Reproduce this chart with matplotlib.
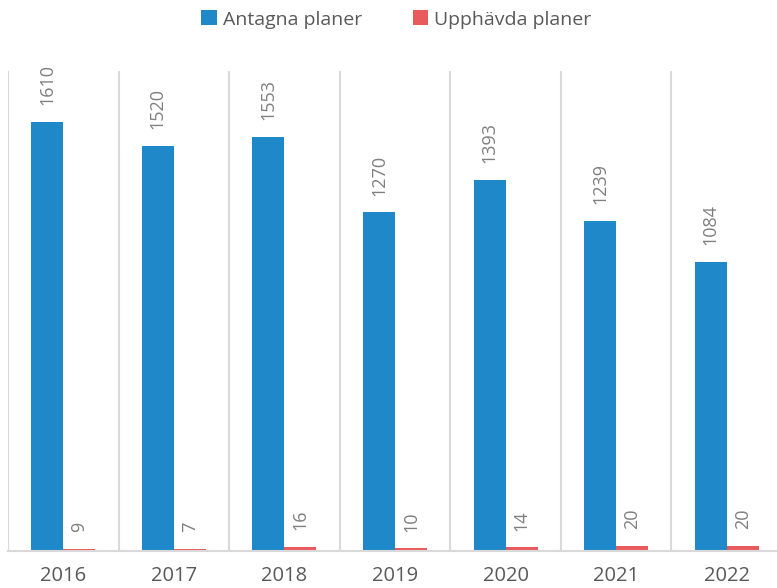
import numpy as np
import matplotlib.pyplot as plt

plt.rcParams['font.family'] = ['Open Sans', 'DejaVu Sans']

years = ['2016', '2017', '2018', '2019', '2020', '2021', '2022']
antagna = [1610, 1520, 1553, 1270, 1393, 1239, 1084]
upphavda = [9, 7, 16, 10, 14, 20, 20]

blue = '#1f88c8'
red = '#e85a5c'
grid = '#d9d9d9'
label_col = '#7f7f7f'

fig = plt.figure(figsize=(7.77, 5.88), dpi=100)
ax = fig.add_axes([8 / 777, 1 - 551 / 588, 774 / 777, 480 / 588])

x = np.arange(len(years))
w = 0.29
b1 = ax.bar(x - w / 2, antagna, w, color=blue, label='Antagna planer')
b2 = ax.bar(x + w / 2, upphavda, w, color=red, label='Upphävda planer')

for bars, vals in ((b1, antagna), (b2, upphavda)):
    for rect, v in zip(bars, vals):
        ax.annotate(str(v), (rect.get_x() + rect.get_width() / 2, rect.get_height()),
                    xytext=(0, 12), textcoords='offset points', rotation=90,
                    ha='center', va='bottom', fontsize=13, color=label_col)

# category separators
for b in np.arange(-0.5, len(years) + 0.5, 1):
    ax.axvline(b, color=grid, lw=1.5, zorder=0)

ax.set_xlim(-0.5, len(years) - 0.5)
ax.set_ylim(0, 1800)
ax.set_xticks(x)
ax.set_xticklabels(years, fontsize=14.5, color='#595959')
ax.tick_params(axis='x', length=0, pad=11)
ax.set_yticks([])
for s in ['top', 'left', 'right']:
    ax.spines[s].set_visible(False)
ax.spines['bottom'].set_color(grid)
ax.spines['bottom'].set_linewidth(1.5)

fig.legend(loc='upper center', bbox_to_anchor=(0.51, 1.012), ncol=2, frameon=False,
           fontsize=14, labelcolor='#595959', handlelength=0.8, handleheight=0.8,
           handletextpad=0.3, columnspacing=2.6)

fig.savefig('out.png', dpi=100)
